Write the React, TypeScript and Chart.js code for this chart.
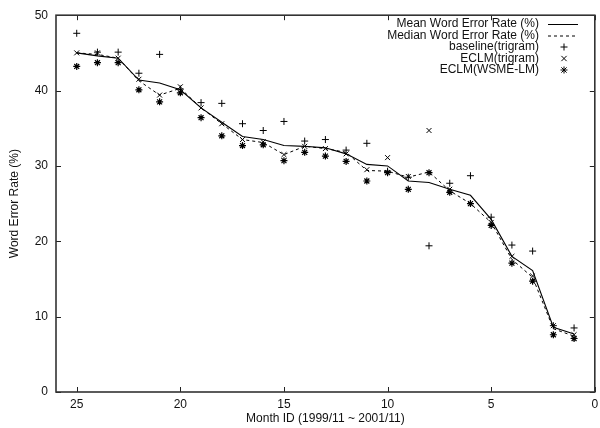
import React, { useEffect, useRef } from "react";
import { Chart, registerables } from "chart.js";

Chart.register(...registerables);

const months = [25, 24, 23, 22, 21, 20, 19, 18, 17, 16, 15, 14, 13, 12, 11, 10, 9, 8, 7, 6, 5, 4, 3, 2, 1];
const meanWER = [45.0, 44.6, 44.3, 41.4, 41.0, 40.1, 37.7, 35.8, 33.9, 33.5, 32.7, 32.6, 32.4, 31.6, 30.2, 30.0, 28.0, 27.8, 26.9, 26.1, 22.9, 18.0, 16.1, 8.6, 7.7];
const medianWER = [45.0, 44.8, 44.3, 41.3, 39.4, 40.3, 37.7, 35.6, 33.5, 33.1, 31.5, 32.6, 32.3, 31.8, 29.4, 29.3, 28.5, 29.2, 26.7, 25.0, 22.5, 17.6, 15.2, 8.4, 7.4];
const baselineTrigram = [47.6, 45.1, 45.1, 42.3, 44.8, 40.2, 38.4, 38.3, 35.6, 34.7, 35.9, 33.3, 33.5, 32.1, 33.0, 29.3, 28.5, 19.4, 27.7, 28.7, 23.2, 19.5, 18.7, 8.8, 8.5];
const eclmTrigram = [45.0, 45.0, 44.3, 41.5, 39.4, 40.5, 37.7, 35.6, 33.5, 33.2, 31.5, 32.6, 32.3, 31.6, 29.5, 31.1, 28.6, 34.7, 26.9, 25.0, 22.5, 18.0, 15.4, 8.8, 7.6];
const eclmWsme = [43.2, 43.7, 43.7, 40.1, 38.5, 39.7, 36.4, 34.0, 32.7, 32.8, 30.7, 31.8, 31.3, 30.6, 28.0, 29.1, 26.9, 29.1, 26.5, 25.0, 22.1, 17.1, 14.7, 7.6, 7.1];

const xTicks = [0, 5, 10, 15, 20, 25];
const yTicks = [0, 10, 20, 30, 40, 50];

const legendLabels = [
  "Mean Word Error Rate (%)",
  "Median Word Error Rate (%)",
  "baseline(trigram)",
  "ECLM(trigram)",
  "ECLM(WSME-LM)",
];

const FONT = "Liberation Sans, Arial, Helvetica, sans-serif";

const toXY = (vals: number[]) => months.map((m, i) => ({ x: m, y: vals[i] }));

function drawSymbol(ctx: CanvasRenderingContext2D, kind: string, x: number, y: number, r: number) {
  ctx.beginPath();
  if (kind === "cross" || kind === "star") {
    ctx.moveTo(x - r, y);
    ctx.lineTo(x + r, y);
    ctx.moveTo(x, y - r);
    ctx.lineTo(x, y + r);
  }
  if (kind === "crossRot" || kind === "star") {
    const d = r * 0.75;
    ctx.moveTo(x - d, y - d);
    ctx.lineTo(x + d, y + d);
    ctx.moveTo(x - d, y + d);
    ctx.lineTo(x + d, y - d);
  }
  ctx.stroke();
}

const framePlugin = {
  id: "gnuFrame",
  afterDraw(chart: any) {
    const { ctx, chartArea } = chart;
    const { left, right, top, bottom } = chartArea;
    const xs = chart.scales.x;
    const ys = chart.scales.y;
    ctx.save();
    ctx.strokeStyle = "#222";
    ctx.lineWidth = 1;
    const tl = 5;
    ctx.beginPath();
    for (const v of xTicks) {
      const px = Math.round(xs.getPixelForValue(v)) + 0.5;
      ctx.moveTo(px, bottom);
      ctx.lineTo(px, bottom - tl);
      ctx.moveTo(px, top);
      ctx.lineTo(px, top + tl);
    }
    for (const v of yTicks) {
      const py = Math.round(ys.getPixelForValue(v)) + 0.5;
      ctx.moveTo(left, py);
      ctx.lineTo(left + tl, py);
      ctx.moveTo(right, py);
      ctx.lineTo(right - tl, py);
    }
    ctx.stroke();
    ctx.lineWidth = 1.6;
    ctx.strokeStyle = "#333";
    ctx.strokeRect(left, top, right - left, bottom - top);

    // legend
    ctx.fillStyle = "#111";
    ctx.font = `12px ${FONT}`;
    ctx.textAlign = "right";
    ctx.textBaseline = "middle";
    const rows = [24, 35.5, 47, 58.5, 70];
    const textRight = 539;
    const sx1 = 548, sx2 = 578, sc = 564;
    legendLabels.forEach((lab, i) => {
      ctx.fillText(lab, textRight, rows[i]);
    });
    ctx.strokeStyle = "#000";
    ctx.lineWidth = 1;
    ctx.setLineDash([]);
    ctx.beginPath();
    ctx.moveTo(sx1, rows[0] + 0.5);
    ctx.lineTo(sx2, rows[0] + 0.5);
    ctx.stroke();
    ctx.setLineDash([3, 3]);
    ctx.beginPath();
    ctx.moveTo(sx1, rows[1] + 0.5);
    ctx.lineTo(sx2, rows[1] + 0.5);
    ctx.stroke();
    ctx.setLineDash([]);
    drawSymbol(ctx, "cross", sc, rows[2], 3.5);
    drawSymbol(ctx, "crossRot", sc, rows[3], 3.5);
    drawSymbol(ctx, "star", sc, rows[4], 3.5);
    ctx.restore();
  },
};

export default function App() {
  const ref = useRef<HTMLCanvasElement | null>(null);
  useEffect(() => {
    document.body.style.margin = "0";
    const canvas = ref.current;
    if (!canvas) return;
    const chart = new Chart(canvas, {
      type: "scatter",
      data: {
        datasets: [
          {
            label: legendLabels[0],
            type: "line",
            data: toXY(meanWER),
            borderColor: "#000",
            borderWidth: 1.1,
            pointRadius: 0,
            fill: false,
            tension: 0,
            showLine: true,
          },
          {
            label: legendLabels[1],
            type: "line",
            data: toXY(medianWER),
            borderColor: "#000",
            borderWidth: 1,
            borderDash: [3, 3],
            pointRadius: 0,
            fill: false,
            tension: 0,
            showLine: true,
          },
          {
            label: legendLabels[2],
            data: toXY(baselineTrigram),
            pointStyle: "cross",
            pointRadius: 3.5,
            borderColor: "#000",
            backgroundColor: "#000",
            pointBorderWidth: 1,
            showLine: false,
          },
          {
            label: legendLabels[3],
            data: toXY(eclmTrigram),
            pointStyle: "crossRot",
            pointRadius: 3.5,
            borderColor: "#000",
            backgroundColor: "#000",
            pointBorderWidth: 1,
            showLine: false,
          },
          {
            label: legendLabels[4],
            data: toXY(eclmWsme),
            pointStyle: "star",
            pointRadius: 3.5,
            borderColor: "#000",
            backgroundColor: "#000",
            pointBorderWidth: 1.2,
            showLine: false,
          },
        ] as any,
      },
      options: {
        animation: false,
        responsive: false,
        events: [],
        layout: { padding: { top: 12, right: 3, left: 0, bottom: 0 } },
        plugins: { legend: { display: false }, tooltip: { enabled: false } },
        scales: {
          x: {
            type: "linear",
            min: 0,
            max: 26,
            reverse: true,
            grid: { display: false, drawTicks: false },
            border: { display: false },
            afterFit: (s: any) => {
              s.height = 36;
            },
            afterBuildTicks: (s: any) => {
              s.ticks = xTicks.map((v) => ({ value: v }));
            },
            ticks: {
              padding: 5,
              color: "#111",
              font: { family: FONT, size: 12 },
              maxRotation: 0,
            },
            title: {
              display: true,
              text: "Month ID (1999/11 ~ 2001/11)",
              color: "#111",
              font: { family: FONT, size: 12 },
              padding: { top: 0, bottom: 2 },
            },
          },
          y: {
            type: "linear",
            min: 0,
            max: 50,
            grid: { display: false, drawTicks: false },
            border: { display: false },
            afterFit: (s: any) => {
              s.width = 56;
            },
            afterBuildTicks: (s: any) => {
              s.ticks = yTicks.map((v) => ({ value: v }));
            },
            ticks: {
              padding: 8,
              color: "#111",
              font: { family: FONT, size: 12 },
            },
            title: {
              display: true,
              text: "Word Error Rate (%)",
              color: "#111",
              font: { family: FONT, size: 12 },
              padding: { top: 7, bottom: 0 },
            },
          },
        },
      },
      plugins: [framePlugin],
    });
    return () => chart.destroy();
  }, []);
  return (
    <div style={{ width: 600, height: 428, background: "#fff" }}>
      <canvas ref={ref} width={600} height={428} style={{ display: "block" }} />
    </div>
  );
}
